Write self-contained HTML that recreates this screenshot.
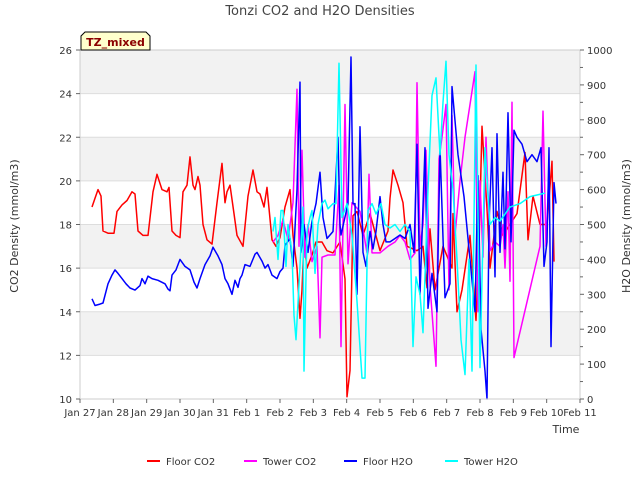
<!DOCTYPE html>
<html><head><meta charset="utf-8">
<style>
body{margin:0;background:#fff;font-family:"Liberation Sans","DejaVu Sans",sans-serif;}
svg text{font-family:"DejaVu Sans","Liberation Sans",sans-serif;}
</style></head>
<body>
<svg id="chart" width="640" height="480" viewBox="0 0 640 480" xmlns="http://www.w3.org/2000/svg">
<rect width="640" height="480" fill="#fff"/>
<g id="bands"></g>
<g id="grid"></g>
<g id="series" clip-path="url(#clip)"></g>
<defs><clipPath id="clip"><rect x="80" y="50" width="500" height="350"/></clipPath></defs>
<rect x="80" y="50" width="500" height="349" fill="none" stroke="#cccccc" stroke-width="1"/>
<g id="axes"></g>
<text x="320" y="15" font-size="13" fill="#444" text-anchor="middle">Tonzi CO2 and H2O Densities</text>
<text x="0" y="0" font-size="11" fill="#333" text-anchor="middle" transform="translate(18,226) rotate(-90)">CO2 Density (mmol/m3)</text>
<text x="0" y="0" font-size="11" fill="#333" text-anchor="middle" transform="translate(630,226) rotate(-90)">H2O Density (mmol/m3)</text>
<text x="566" y="433" font-size="11" fill="#333" text-anchor="middle">Time</text>
<g>
<path d="M81,36 L85,32 L146,32 L150,36 L150,50 L81,50 Z" fill="#ffffcc" stroke="#000" stroke-width="1"/>
<text x="115.5" y="46" font-size="11" font-weight="bold" fill="#8b0000" text-anchor="middle">TZ_mixed</text>
</g>
<g id="legend"></g>
</svg>
<script>
const categories = ["Jan 27","Jan 28","Jan 29","Jan 30","Jan 31","Feb 1","Feb 2","Feb 3","Feb 4","Feb 5","Feb 6","Feb 7","Feb 8","Feb 9","Feb 10","Feb 11"];
const leftTicks = [10,12,14,16,18,20,22,24,26];
const rightTicks = [0,100,200,300,400,500,600,700,800,900,1000];
const seriesNames = ["Floor CO2","Tower CO2","Floor H2O","Tower H2O"];

const floorCO2T = [0.36,0.45,0.54,0.63,0.69,0.84,1.02,1.11,1.26,1.41,1.56,1.65,1.74,1.89,2.04,2.19,2.31,2.46,2.61,2.67,2.76,2.88,3.0,3.09,3.21,3.3,3.39,3.45,3.54,3.6,3.69,3.81,3.96,4.11,4.26,4.35,4.41,4.5,4.62,4.71,4.89,5.04,5.19,5.31,5.4,5.52,5.61,5.76,5.88,6.0,6.15,6.3,6.39,6.51,6.6,6.66,6.72,6.81,6.96,7.08,7.26,7.41,7.59,7.8,7.95,8.01,8.1,8.19,8.31,8.49,8.7,9.0,9.24,9.3,9.39,9.54,9.69,9.81,10.11,10.29,10.41,10.5,10.65,10.89,11.16,11.19,11.31,11.46,11.7,11.88,11.97,12.06,12.21,12.3,12.51,12.69,12.9,13.11,13.35,13.44,13.59,13.8,14.01,14.16,14.22];
const floorCO2V = [18.8,19.2,19.6,19.3,17.7,17.6,17.6,18.6,18.9,19.1,19.5,19.4,17.7,17.5,17.5,19.5,20.3,19.6,19.5,19.7,17.7,17.5,17.4,19.5,19.8,21.1,19.8,19.6,20.2,19.8,18.0,17.3,17.1,19.0,20.8,19.0,19.5,19.8,18.5,17.5,17.0,19.3,20.5,19.5,19.4,18.8,19.7,17.3,17.0,17.4,18.8,19.6,17.5,16.0,13.7,15,17.3,16.0,16.6,17.2,17.2,16.8,16.7,17.2,15.5,10.1,11.3,18.4,18.6,17.5,18.5,16.8,17.7,19.2,20.5,19.8,19.0,17.0,16.8,17.0,15.1,17.8,15.0,17.0,16.0,18.5,14.0,15.0,17.5,13.6,17,22.5,18.7,16.0,18.6,17.5,18,18.5,21.3,17.3,19.3,18.0,18.0,20.9,16.3];

const towerCO2T = [5.79,5.94,6.09,6.24,6.39,6.51,6.57,6.66,6.75,6.84,6.96,7.11,7.2,7.26,7.44,7.65,7.77,7.83,7.95,8.04,8.16,8.4,8.61,8.67,8.76,9.0,9.24,9.45,9.6,9.75,9.9,10.05,10.11,10.2,10.29,10.38,10.5,10.68,10.77,10.86,10.98,11.07,11.16,11.25,11.4,11.55,11.7,11.85,11.94,12.0,12.09,12.18,12.3,12.45,12.6,12.69,12.75,12.84,12.9,12.96,13.02,13.8,13.89,13.98,14.07];
const towerCO2V = [17.2,17.5,18.2,17.3,19,24.2,17,21.4,16.5,18,16.3,17,12.8,16.5,16.6,16.6,19.8,12.4,23.5,16.2,19.0,18.6,16.7,20.3,16.7,16.7,17.0,17.2,17.5,17.2,16.4,16.7,24.5,17,18,21.4,15.2,11.5,21.0,22,23.5,15.0,23.0,17.5,20,22,23.5,25.0,14,20,16.5,22,16.8,17.2,17,18,16,19.5,15.4,23.6,11.9,17,23.2,17,20.5];

const floorH2OT = [0.36,0.45,0.6,0.69,0.84,0.96,1.05,1.14,1.26,1.38,1.5,1.65,1.8,1.86,1.95,2.04,2.16,2.34,2.55,2.64,2.7,2.76,2.88,3.0,3.15,3.3,3.42,3.51,3.6,3.75,3.9,3.99,4.14,4.26,4.35,4.44,4.56,4.65,4.74,4.8,4.86,4.95,5.1,5.25,5.31,5.46,5.55,5.64,5.76,5.91,6.0,6.09,6.15,6.3,6.39,6.51,6.6,6.63,6.72,6.84,6.96,7.08,7.2,7.29,7.41,7.59,7.74,7.8,7.83,8.04,8.13,8.19,8.25,8.31,8.4,8.49,8.58,8.7,8.79,8.88,9.0,9.09,9.18,9.3,9.45,9.6,9.75,9.9,10.02,10.11,10.2,10.35,10.44,10.56,10.71,10.8,10.95,11.1,11.16,11.34,11.52,11.7,11.85,11.94,12.03,12.15,12.21,12.27,12.36,12.45,12.51,12.6,12.69,12.75,12.84,12.93,13.02,13.11,13.26,13.41,13.56,13.71,13.83,13.92,14.01,14.07,14.13,14.22,14.28];
const floorH2OV = [287,268,272,275,330,355,370,360,345,330,318,312,325,345,330,352,345,340,330,315,310,355,370,400,380,370,335,318,345,385,410,435,410,385,345,330,300,340,320,345,355,385,380,415,420,395,375,385,355,345,365,375,440,460,380,600,908,420,500,420,510,560,650,520,460,480,750,500,470,560,980,560,560,300,780,420,380,480,430,480,580,500,450,450,460,470,460,500,420,730,300,720,260,360,250,720,290,330,895,700,580,400,250,640,200,80,0,500,720,350,760,420,650,430,820,450,770,750,730,680,700,680,720,380,450,720,150,620,560];

const towerH2OT = [5.79,5.85,5.94,6.03,6.09,6.18,6.24,6.36,6.42,6.48,6.6,6.69,6.72,6.81,6.9,6.96,7.05,7.14,7.26,7.35,7.44,7.59,7.68,7.77,7.86,8.01,8.16,8.31,8.46,8.55,8.64,8.76,8.88,9.03,9.15,9.3,9.45,9.6,9.75,9.9,9.99,10.08,10.2,10.29,10.44,10.56,10.68,10.8,10.89,10.98,11.07,11.19,11.31,11.43,11.55,11.67,11.76,11.88,12.0,12.15,12.3,12.45,12.6,12.9,13.2,13.5,13.95];
const towerH2OV = [480,520,400,540,540,380,500,420,240,170,380,550,80,480,520,540,360,500,560,570,545,560,560,962,520,560,470,280,60,60,540,560,530,560,500,490,500,480,500,480,150,350,300,190,600,870,920,700,850,968,700,600,400,170,70,400,80,957,90,720,500,520,510,550,560,580,590];

const X0=80, X1=580, Y0=399, Y1=50;
const xScale = d => X0 + d*(X1-X0)/15;
const yLeft = v => Y0 - (v-10)*(Y0-Y1)/16;
const yRight = v => Y0 - v*(Y0-Y1)/1000;
const NS="http://www.w3.org/2000/svg";
function mk(tag, attrs, parent){const e=document.createElementNS(NS,tag);for(const k in attrs)e.setAttribute(k,attrs[k]);parent.appendChild(e);return e;}

const bands=document.getElementById('bands');
[[24,26],[20,22],[16,18],[12,14]].forEach(b=>{
  const r=mk('rect',{x:X0,y:yLeft(b[1]),width:X1-X0,height:yLeft(b[0])-yLeft(b[1]),fill:'#f2f2f2'},bands);
  
  
});
const grid=document.getElementById('grid');
leftTicks.forEach(v=>{
  const l=mk('line',{x1:X0,x2:X1,y1:yLeft(v),y2:yLeft(v),stroke:'#dddddd','stroke-width':1},grid);
  
  
});
const axes=document.getElementById('axes');
leftTicks.forEach(v=>{
  const y=yLeft(v);
  mk('line',{x1:X0-4,x2:X0,y1:y,y2:y,stroke:'#666'},axes);
  const t=mk('text',{x:X0-8,y:y+4,'font-size':10,fill:'#333','text-anchor':'end'},axes);
  t.textContent=v;
  
  
});
rightTicks.forEach(v=>{
  const y=yRight(v);
  mk('line',{x1:X1,x2:X1+4,y1:y,y2:y,stroke:'#666'},axes);
  const t=mk('text',{x:X1+7,y:y+4,'font-size':10,fill:'#333'},axes);
  t.textContent=v;
  
  
  if(v<1000){const ym=yRight(v+50);mk('line',{x1:X1,x2:X1+3,y1:ym,y2:ym,stroke:'#666'},axes);}
});
categories.forEach((c,i)=>{
  const x=xScale(i);
  mk('line',{x1:x,x2:x,y1:Y0,y2:Y0+4,stroke:'#666'},axes);
  const t=mk('text',{x:x,y:Y0+17,'font-size':10,fill:'#333','text-anchor':'middle'},axes);
  t.textContent=c;
  
  
});

const ser=document.getElementById('series');
function line(T,V,ys,color,name){
  const pts=T.map((t,i)=>xScale(t).toFixed(1)+','+ys(V[i]).toFixed(1)).join(' ');
  const p=mk('polyline',{points:pts,fill:'none',stroke:color,'stroke-width':1.5,'stroke-linejoin':'round'},ser);
  
  
}
line(floorCO2T,floorCO2V,yLeft,'#ff0000','floor-co2-line');
line(towerCO2T,towerCO2V,yLeft,'#ff00ff','tower-co2-line');
line(floorH2OT,floorH2OV,yRight,'#0000ff','floor-h2o-line');
line(towerH2OT,towerH2OV,yRight,'#00ffff','tower-h2o-line');

const leg=document.getElementById('legend');
const legColors=['#ff0000','#ff00ff','#0000ff','#00ffff'];
const legX=[147,244,344,445];
seriesNames.forEach((n,i)=>{
  const g=mk('g',{},leg);
  
  
  mk('line',{x1:legX[i],x2:legX[i]+13,y1:461,y2:461,stroke:legColors[i],'stroke-width':2},g);
  const t=mk('text',{x:legX[i]+19,y:465,'font-size':10,fill:'#333'},g);
  t.textContent=n;
});
</script>
</body></html>
